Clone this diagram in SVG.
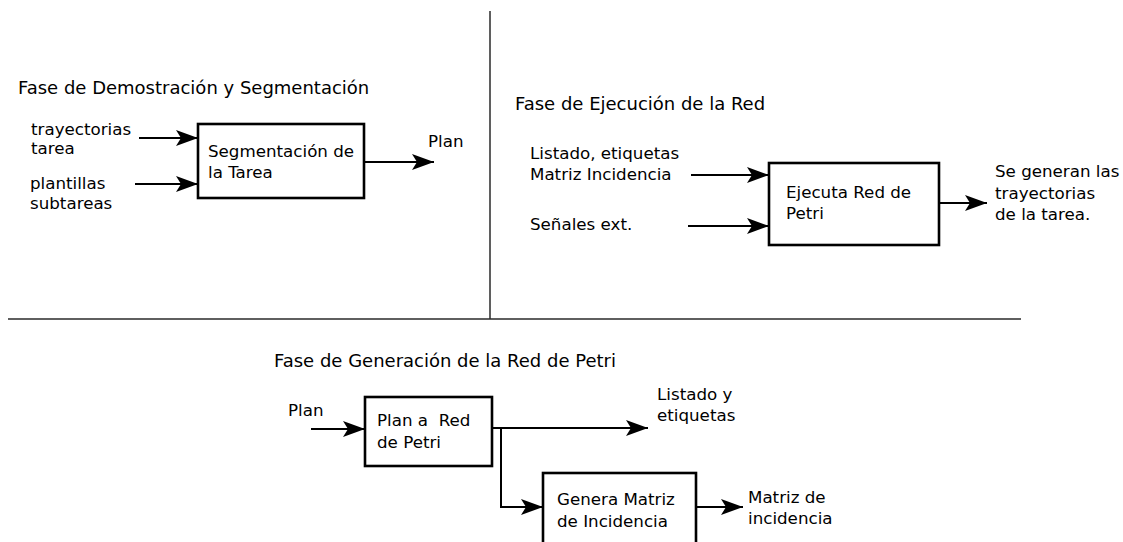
<svg xmlns="http://www.w3.org/2000/svg" width="1123" height="542" viewBox="0 0 1123 542">
<style>
text{font-family:"DejaVu Sans",sans-serif;font-size:16.7px;fill:#000;white-space:pre}
.title{font-size:18px}
.box{fill:#fff;stroke:#000;stroke-width:2.6}
.ln{fill:none;stroke:#000;stroke-width:2}
.sep{fill:none;stroke:#2a2a2a;stroke-width:1.5}
</style>
<defs>
<marker id="ah" markerUnits="userSpaceOnUse" markerWidth="24" markerHeight="18" refX="22" refY="8" orient="auto">
<path d="M0,0 L22,8 L0,16 L5,8 Z" fill="#000"/>
</marker>
</defs>
<g id="separators">
<line class="sep" x1="490" y1="11" x2="490" y2="319"/>
<line class="sep" x1="8" y1="319" x2="1021" y2="319"/>
</g>
<g id="titles">
<text class="title" x="18" y="94">Fase de Demostración y Segmentación</text>
<text class="title" x="515" y="110">Fase de Ejecución de la Red</text>
<text class="title" x="274" y="367">Fase de Generación de la Red de Petri</text>
</g>
<g id="seg">
<rect class="box" x="198" y="124" width="166" height="74"/>
<text x="208" y="157">Segmentación de</text>
<text x="208" y="178">la Tarea</text>
</g>
<g id="ejec">
<rect class="box" x="769" y="163" width="170" height="82"/>
<text x="786" y="198">Ejecuta Red de</text>
<text x="786" y="219">Petri</text>
</g>
<g id="plan2red">
<rect class="box" x="365" y="397" width="127" height="69"/>
<text x="377" y="426">Plan a  Red</text>
<text x="377" y="448">de Petri</text>
</g>
<g id="genmatriz">
<rect class="box" x="543" y="473" width="153" height="80"/>
<text x="557" y="505">Genera Matriz</text>
<text x="557" y="527">de Incidencia</text>
</g>
<g id="labels">
<text x="31" y="135">trayectorias</text>
<text x="31" y="154">tarea</text>
<text x="30" y="189">plantillas</text>
<text x="30" y="209">subtareas</text>
<text x="428" y="147">Plan</text>
<text x="530" y="159">Listado, etiquetas</text>
<text x="530" y="180">Matriz Incidencia</text>
<text x="530" y="230">Señales ext.</text>
<text x="995" y="177">Se generan las</text>
<text x="995" y="199">trayectorias</text>
<text x="995" y="220">de la tarea.</text>
<text x="288" y="416">Plan</text>
<text x="657" y="400">Listado y</text>
<text x="657" y="421">etiquetas</text>
<text x="748" y="503">Matriz de</text>
<text x="748" y="524">incidencia</text>
</g>
<g id="connectors">
<line class="ln" x1="139" y1="138" x2="198" y2="138" marker-end="url(#ah)"/>
<line class="ln" x1="135" y1="184" x2="198" y2="184" marker-end="url(#ah)"/>
<line class="ln" x1="364" y1="162" x2="434" y2="162" marker-end="url(#ah)"/>
<line class="ln" x1="691" y1="175" x2="769" y2="175" marker-end="url(#ah)"/>
<line class="ln" x1="688" y1="226" x2="769" y2="226" marker-end="url(#ah)"/>
<line class="ln" x1="939" y1="203" x2="987" y2="203" marker-end="url(#ah)"/>
<line class="ln" x1="311" y1="429" x2="365" y2="429" marker-end="url(#ah)"/>
<line class="ln" x1="492" y1="428" x2="648" y2="428" marker-end="url(#ah)"/>
<polyline class="ln" points="501,428 501,507 543,507" marker-end="url(#ah)"/>
<line class="ln" x1="696" y1="507" x2="743" y2="507" marker-end="url(#ah)"/>
</g>
</svg>
